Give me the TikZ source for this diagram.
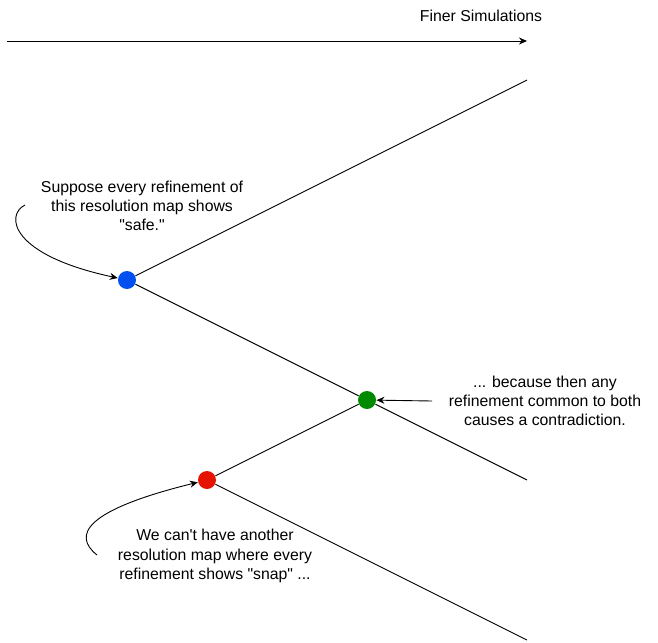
\documentclass[tikz,border=0pt]{standalone}
\usepackage{fontspec}
\setmainfont{Liberation Sans}
\usepackage{xcolor}
\usetikzlibrary{positioning, arrows.meta}

\definecolor{dotblue}{HTML}{0050EF}
\definecolor{dotgreen}{HTML}{008A00}
\definecolor{dotred}{HTML}{E51400}

\begin{document}
\begin{tikzpicture}[
    x=1pt, y=-1pt,
    line width=0.9pt,
    dot/.style={
        circle,
        inner sep=0pt,
        minimum size=18pt
    },
    note/.style={
        align=center,
        inner sep=0pt,
        font=\fontsize{15.8}{19.3}\selectfont
    },
    arrow/.style={
        -{Stealth[length=8pt,width=7pt]}
    }
]
\useasboundingbox (0,0) rectangle (658,642);

% Axis
\coordinate (axisstart) at (7,41);
\coordinate (axisend) at (527,41);
\node[note] (finer) at (481,16) {Finer Simulations};

% Dots
\node[dot, fill=dotblue] (blue) at (127,280) {};
\node[dot, fill=dotgreen] (green) at (367,400) {};
\node[dot, fill=dotred] (red) at (207,480) {};

% Branch ends
\coordinate (topend) at (527,80);
\coordinate (midend) at (527,480);
\coordinate (lowend) at (527,640);

% Notes
\node[note] (safe) at (142,206) {
    Suppose every refinement of\\
    this resolution map shows\\
    \textquotedbl safe.\textquotedbl
};

\node[note] (because) at (545,401) {
    ... because then any\\
    refinement common to both\\
    causes a contradiction.
};

\node[note] (snap) at (215,556) {
    We can\textquotesingle t have another\\
    resolution map where every\\
    refinement shows \textquotedbl snap\textquotedbl\ ...
};

\coordinate (safestart) at (25,205);
\coordinate (snapstart) at (97,555);
\coordinate (becausestart) at (432,401);

% Lines
\draw[arrow] (axisstart) -- (axisend);

\draw (blue) -- (topend);
\draw (blue) -- (green);
\draw (green) -- (midend);
\draw (red) -- (green);
\draw (red) -- (lowend);

\draw[arrow] (safestart) .. controls (5,215) and (10,255) .. (blue);
\draw[arrow] (snapstart) .. controls (72,535) and (85,510) .. (red);
\draw[arrow] (becausestart) -- (green);

\end{tikzpicture}
\end{document}
